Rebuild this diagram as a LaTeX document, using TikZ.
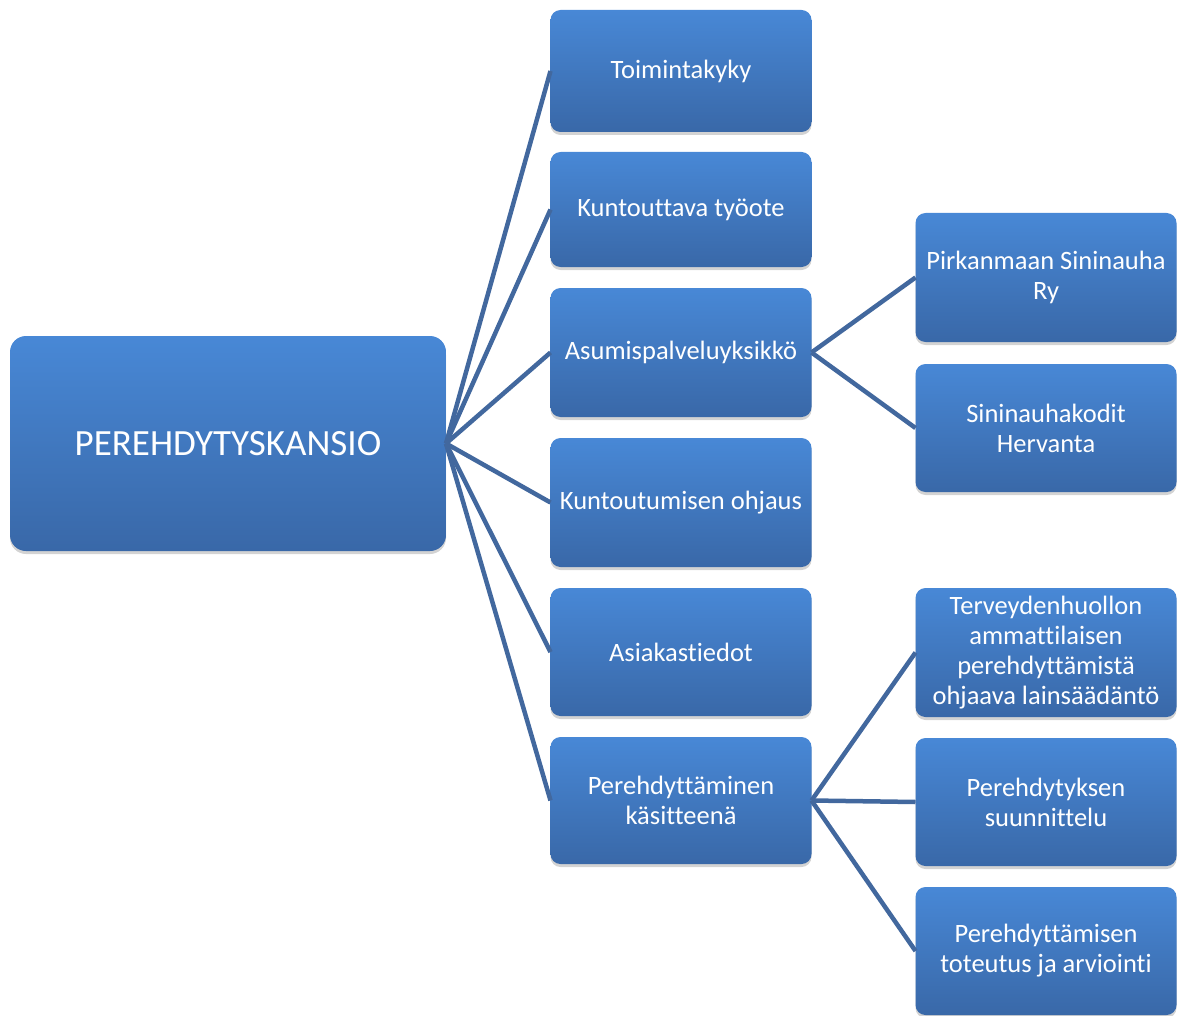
\documentclass[tikz,border=0pt]{standalone}
\usepackage{fontspec}
\setmainfont{Carlito}[Ligatures=NoCommon]
\usetikzlibrary{positioning,shadows}
\definecolor{boxtop}{RGB}{72,136,214}
\definecolor{boxmid}{RGB}{64,124,202}
\definecolor{boxbot}{RGB}{57,104,168}
\definecolor{linkcol}{RGB}{66,104,158}
\begin{document}
\begin{tikzpicture}[x=1pt, y=-1pt, node distance={21pt}, main/.style = {rounded corners=10pt, top color=boxtop, middle color=boxmid, bottom color=boxbot, text=white, align=center, minimum width=261pt, outer sep=0pt, inner sep=2pt, font=\fontsize{26.5}{30}\selectfont, drop shadow={shadow xshift=0pt, shadow yshift=-3pt, opacity=0.35}}, link/.style = {draw=linkcol, line width=4.5pt}]
		\useasboundingbox (0,0) rectangle (1185,1016);
		\node[main, minimum width=436pt, minimum height=215pt, rounded corners=16pt, font=\fontsize{37}{44}\selectfont] (0) at (228,443.5) {PEREHDYTYSKANSIO};
		\node[main, minimum height=122pt] (1) at (681,71) {Toimintakyky};
		\node[main, minimum height=115pt] (2) [below=20pt of 1] {Kuntouttava työote};
		\node[main, minimum height=129pt] (3) [below=of 2] {Asumispalveluyksikkö};
		\node[main, minimum height=129pt] (4) [below=of 3] {Kuntoutumisen ohjaus};
		\node[main, minimum height=128pt] (5) [below=of 4] {Asiakastiedot};
		\node[main, minimum height=127pt] (6) [below=of 5] {Perehdyttäminen\\käsitteenä};
		\node[main, minimum height=129pt] (3a) at (1046,277.5) {Pirkanmaan Sininauha\\Ry};
		\node[main, minimum height=128pt] (3b) [below=22pt of 3a] {Sininauhakodit\\Hervanta};
		\node[main, minimum height=129pt] (6a) at (1046,652.5) {Terveydenhuollon\\ammattilaisen\\perehdyttämistä\\ohjaava lainsäädäntö};
		\node[main, minimum height=128pt] (6b) [below=of 6a] {Perehdytyksen\\suunnittelu};
		\node[main, minimum height=128pt] (6c) [below=of 6b] {Perehdyttämisen\\toteutus ja arviointi};
		\draw[link] (0.east) -- (1.west);
		\draw[link] (0.east) -- (2.west);
		\draw[link] (0.east) -- (3.west);
		\draw[link] (0.east) -- (4.west);
		\draw[link] (0.east) -- (5.west);
		\draw[link] (0.east) -- (6.west);
		\draw[link] (3.east) -- (3a.west);
		\draw[link] (3.east) -- (3b.west);
		\draw[link] (6.east) -- (6a.west);
		\draw[link] (6.east) -- (6b.west);
		\draw[link] (6.east) -- (6c.west);
	\end{tikzpicture}
\end{document}
